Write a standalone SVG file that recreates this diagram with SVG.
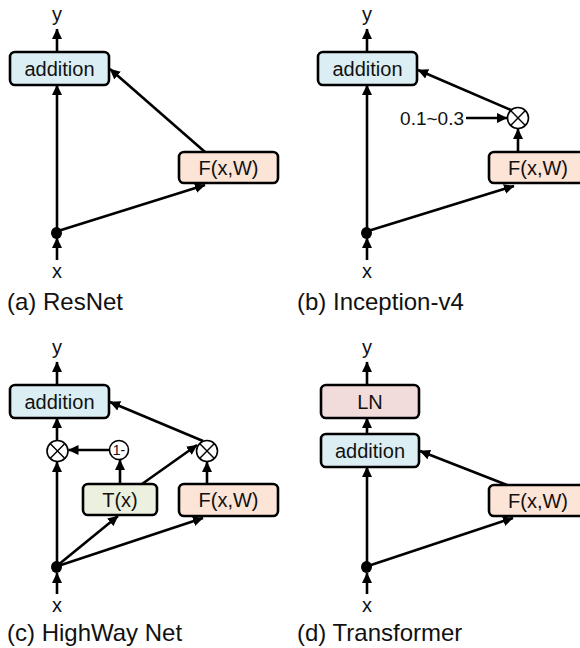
<svg xmlns="http://www.w3.org/2000/svg" width="580" height="648" viewBox="0 0 580 648">
<defs>
<style>
text{font-family:"Liberation Sans",Arial,sans-serif;fill:#111}
.lbl{font-size:20px;text-anchor:middle}
.cap{font-size:24px}
.box{stroke:#000;stroke-width:2.6}
.add{fill:#dbeef4}
.f{fill:#fce4d6}
.t{fill:#ebf1de}
.ln{fill:#f2dcdb}
.c{fill:#fff;stroke:#000;stroke-width:1.6}
.ar{stroke:#000;stroke-width:2.6;fill:none;marker-end:url(#ah)}
</style>
<marker id="ah" markerUnits="userSpaceOnUse" markerWidth="11" markerHeight="11" refX="10" refY="5.5" orient="auto" viewBox="0 0 11 11">
<path d="M0,0.5 L10.5,5.5 L0,10.5 z" fill="#000"/>
</marker>
<g id="otimes-sym">
<circle r="10.5" class="c"/>
<path d="M-7.4,-7.4 L7.4,7.4 M7.4,-7.4 L-7.4,7.4" stroke="#000" stroke-width="1.4"/>
</g>
</defs>

<!-- Panel a -->
<g id="a-y"><text class="lbl" x="57" y="21">y</text></g>
<g id="a-add"><rect class="box add" x="10" y="52" width="99" height="33" rx="5"/><text class="lbl" x="59.5" y="75.5">addition</text></g>
<g id="a-f"><rect class="box f" x="179" y="152" width="99" height="31" rx="5"/><text class="lbl" x="228.5" y="174.5">F(x,W)</text></g>
<g id="a-dot"><ellipse cx="56.5" cy="233" rx="5.5" ry="6" fill="#000"/></g>
<g id="a-x"><text class="lbl" x="57" y="278">x</text></g>
<g id="a-cap"><text class="cap" x="7" y="310">(a) ResNet</text></g>
<g id="a-edges">
<line class="ar" x1="57" y1="52" x2="57" y2="29"/>
<line class="ar" x1="57" y1="228" x2="57" y2="85"/>
<line class="ar" x1="57" y1="260" x2="57" y2="238"/>
<line class="ar" x1="58" y1="231" x2="205" y2="185"/>
<line class="ar" x1="205" y1="152" x2="110" y2="69"/>
</g>

<!-- Panel b -->
<g id="b-y"><text class="lbl" x="367" y="21">y</text></g>
<g id="b-add"><rect class="box add" x="318" y="52" width="99" height="33" rx="5"/><text class="lbl" x="367.5" y="75.5">addition</text></g>
<g id="b-mul"><use href="#otimes-sym" x="518" y="118"/></g>
<g id="b-scale"><text x="464" y="125" style="font-size:19px;text-anchor:end">0.1~0.3</text></g>
<g id="b-f"><rect class="box f" x="489" y="152" width="99" height="31" rx="5"/><text class="lbl" x="538" y="174.5">F(x,W)</text></g>
<g id="b-dot"><ellipse cx="366.5" cy="233" rx="5.5" ry="6" fill="#000"/></g>
<g id="b-x"><text class="lbl" x="367" y="278">x</text></g>
<g id="b-cap"><text class="cap" x="297" y="310">(b) Inception-v4</text></g>
<g id="b-edges">
<line class="ar" x1="367" y1="52" x2="367" y2="29"/>
<line class="ar" x1="367" y1="228" x2="367" y2="85"/>
<line class="ar" x1="367" y1="260" x2="367" y2="238"/>
<line class="ar" x1="368" y1="231" x2="514" y2="186"/>
<line class="ar" x1="518" y1="152" x2="518" y2="129"/>
<line class="ar" x1="466" y1="118" x2="507" y2="118"/>
<line class="ar" x1="511" y1="110" x2="418" y2="70"/>
</g>

<!-- Panel c -->
<g id="c-y"><text class="lbl" x="57" y="354">y</text></g>
<g id="c-add"><rect class="box add" x="10" y="385" width="99" height="33" rx="5"/><text class="lbl" x="59.5" y="408.5">addition</text></g>
<g id="c-mul1"><use href="#otimes-sym" x="57.5" y="451"/></g>
<g id="c-one"><circle cx="119" cy="450" r="9.5" class="c"/><text x="119" y="455" style="font-size:14px;text-anchor:middle">1-</text></g>
<g id="c-mul2"><use href="#otimes-sym" x="207" y="451"/></g>
<g id="c-t"><rect class="box t" x="83" y="484" width="74" height="31" rx="5"/><text class="lbl" x="120" y="507">T(x)</text></g>
<g id="c-f"><rect class="box f" x="179" y="484" width="99" height="32" rx="5"/><text class="lbl" x="228.5" y="507">F(x,W)</text></g>
<g id="c-dot"><ellipse cx="56.5" cy="567" rx="5.5" ry="6" fill="#000"/></g>
<g id="c-x"><text class="lbl" x="57" y="612">x</text></g>
<g id="c-cap"><text class="cap" x="7" y="641">(c) HighWay Net</text></g>
<g id="c-edges">
<line class="ar" x1="57" y1="385" x2="57" y2="362"/>
<line class="ar" x1="57" y1="440.5" x2="57" y2="418"/>
<line class="ar" x1="109.5" y1="450" x2="68.5" y2="450"/>
<line class="ar" x1="120" y1="484" x2="120" y2="460"/>
<line class="ar" x1="207" y1="484" x2="207" y2="462"/>
<line class="ar" x1="142" y1="484" x2="197" y2="445"/>
<line class="ar" x1="203" y1="441" x2="110" y2="402"/>
<line class="ar" x1="57" y1="562" x2="57" y2="462"/>
<line class="ar" x1="58" y1="565" x2="118" y2="516"/>
<line class="ar" x1="58" y1="566" x2="203" y2="518"/>
<line class="ar" x1="57" y1="594" x2="57" y2="573"/>
</g>

<!-- Panel d -->
<g id="d-y"><text class="lbl" x="367" y="354">y</text></g>
<g id="d-ln"><rect class="box ln" x="321" y="385" width="98" height="33" rx="5"/><text class="lbl" x="370" y="408.5">LN</text></g>
<g id="d-add"><rect class="box add" x="321" y="434" width="98" height="33" rx="5"/><text class="lbl" x="370" y="457.5">addition</text></g>
<g id="d-f"><rect class="box f" x="489" y="485" width="99" height="31" rx="5"/><text class="lbl" x="538" y="507.5">F(x,W)</text></g>
<g id="d-dot"><ellipse cx="366.5" cy="567" rx="5.5" ry="6" fill="#000"/></g>
<g id="d-x"><text class="lbl" x="367" y="612">x</text></g>
<g id="d-cap"><text class="cap" x="297" y="641">(d) Transformer</text></g>
<g id="d-edges">
<line class="ar" x1="367" y1="385" x2="367" y2="362"/>
<line class="ar" x1="367" y1="434" x2="367" y2="418"/>
<line class="ar" x1="507" y1="485" x2="420" y2="451"/>
<line class="ar" x1="367" y1="562" x2="367" y2="467"/>
<line class="ar" x1="368" y1="566" x2="513" y2="518"/>
<line class="ar" x1="367" y1="594" x2="367" y2="573"/>
</g>
</svg>
